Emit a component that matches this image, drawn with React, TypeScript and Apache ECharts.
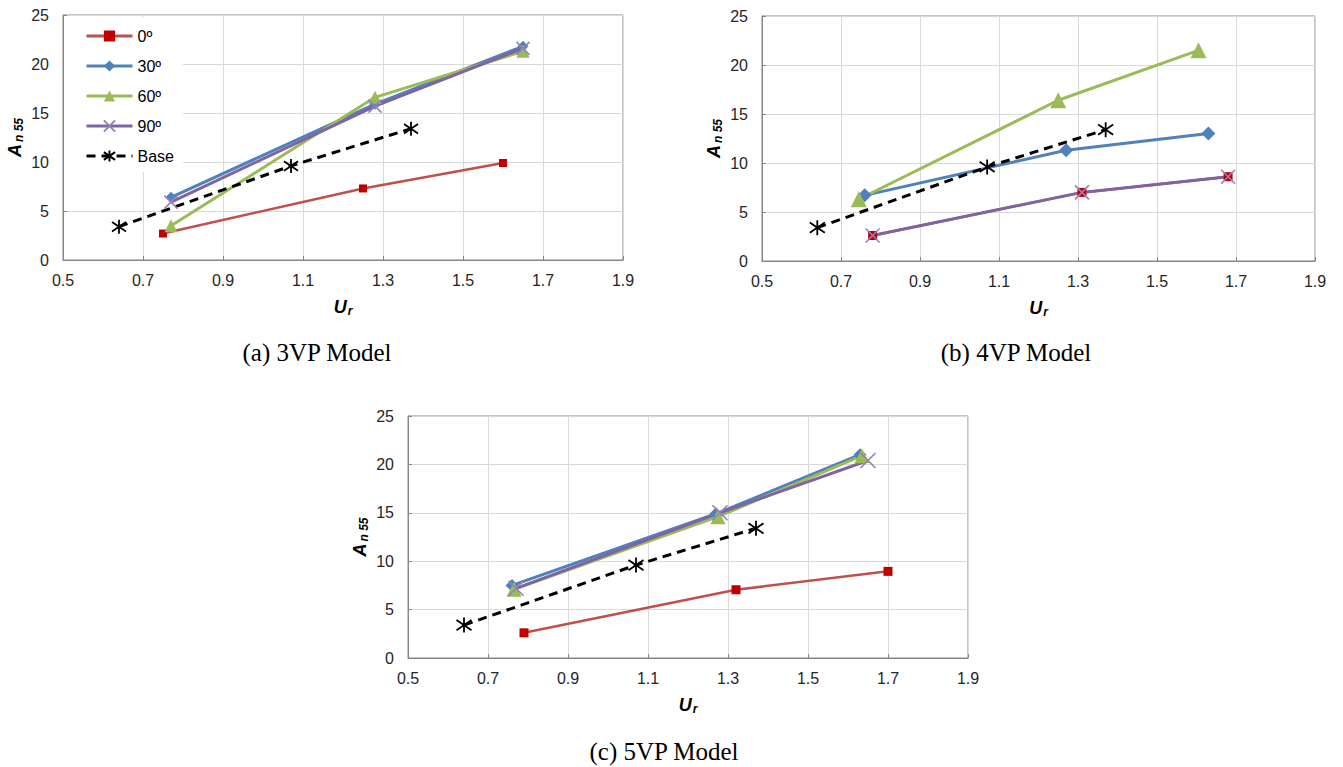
import React, { useEffect, useRef } from 'react';
import * as echarts from 'echarts';

// ---- data ----
const seriesNames = ['0º', '30º', '60º', '90º', 'Base'];
const captions = ['(a) 3VP Model', '(b) 4VP Model', '(c) 5VP Model'];
const xTicks = { min: 0.5, max: 1.9, step: 0.2 };
const yTicks = { min: 0, max: 25, step: 5 };

// shared base case [Ur, An55]
const base: [number, number][] = [[0.64, 3.4], [1.07, 9.6], [1.37, 13.4]];

// (a) 3VP
const vp3_deg0: [number, number][] = [[0.75, 2.7], [1.25, 7.3], [1.60, 9.9]];
const vp3_deg30: [number, number][] = [[0.77, 6.4], [1.28, 15.9], [1.65, 21.8]];
const vp3_deg60: [number, number][] = [[0.77, 3.5], [1.28, 16.6], [1.65, 21.3]];
const vp3_deg90: [number, number][] = [[0.77, 5.9], [1.28, 15.7], [1.65, 21.6]];

// (b) 4VP
const vp4_deg0: [number, number][] = [[0.78, 2.6], [1.31, 7.0], [1.68, 8.6]];
const vp4_deg30: [number, number][] = [[0.76, 6.7], [1.27, 11.3], [1.63, 13.0]];
const vp4_deg60: [number, number][] = [[0.745, 6.3], [1.25, 16.4], [1.605, 21.5]];
const vp4_deg90: [number, number][] = [[0.78, 2.6], [1.31, 7.0], [1.68, 8.6]];

// (c) 5VP
const vp5_deg0: [number, number][] = [[0.79, 2.6], [1.32, 7.05], [1.70, 8.95]];
const vp5_deg30: [number, number][] = [[0.76, 7.5], [1.27, 14.9], [1.63, 21.0]];
const vp5_deg60: [number, number][] = [[0.765, 7.1], [1.275, 14.6], [1.635, 20.9]];
const vp5_deg90: [number, number][] = [[0.77, 7.2], [1.28, 15.0], [1.65, 20.4]];

const panels = [
  [vp3_deg0, vp3_deg30, vp3_deg60, vp3_deg90, base],
  [vp4_deg0, vp4_deg30, vp4_deg60, vp4_deg90, base],
  [vp5_deg0, vp5_deg30, vp5_deg60, vp5_deg90, base],
];

// ---- layout / style ----
const grids = [
  { left: 63, top: 15, width: 560, height: 245 },
  { left: 762, top: 16, width: 553, height: 245 },
  { left: 408, top: 416, width: 560, height: 242 },
];
const captionPos = [
  [317, 352],
  [1016, 352],
  [664, 751],
];
const markerSizes = [
  [8, 11, 13, 13, 14],
  [9, 14, 16, 14, 15],
  [9, 13, 15, 15, 15],
];

const X_PATH = 'path://M0,0L10,10M10,0L0,10';
const STAR_PATH = 'path://M5,0L5,10M1,1.6L9,8.4M1,8.4L9,1.6';
const FONT = '"Liberation Sans", Arial, sans-serif';

const styleFor = (k: number, size: number) => {
  switch (k) {
    case 0:
      return {
        symbol: 'rect',
        symbolSize: size,
        itemStyle: { color: '#c00000' },
        lineStyle: { color: '#c0504d', width: 2.5 },
      };
    case 1:
      return {
        symbol: 'diamond',
        symbolSize: size,
        itemStyle: { color: '#4f81bd' },
        lineStyle: { color: '#4f81bd', width: 3 },
      };
    case 2:
      return {
        symbol: 'triangle',
        symbolSize: size,
        itemStyle: { color: '#9bbb59' },
        lineStyle: { color: '#9bbb59', width: 3 },
      };
    case 3:
      return {
        symbol: X_PATH,
        symbolSize: size,
        itemStyle: { color: '#9580b8', borderColor: '#9580b8', borderWidth: 1.6 },
        lineStyle: { color: '#8064a2', width: 3 },
      };
    default:
      return {
        symbol: STAR_PATH,
        symbolSize: size,
        itemStyle: { color: '#000', borderColor: '#000', borderWidth: 1.8 },
        lineStyle: { color: '#000', width: 3, type: [9, 6] as any },
      };
  }
};

export default function App() {
  const ref = useRef<HTMLDivElement>(null);
  useEffect(() => {
    if (!ref.current) return;
    const chart = echarts.init(ref.current, undefined, { renderer: 'svg' });

    const xAxis = grids.map((_, i) => ({
      gridIndex: i,
      type: 'value',
      min: xTicks.min,
      max: xTicks.max,
      interval: xTicks.step,
      axisLabel: {
        fontSize: 16,
        color: '#262626',
        fontFamily: FONT,
        margin: 12,
        formatter: (v: number) => v.toFixed(1),
      },
      axisLine: { lineStyle: { color: '#868686', width: 1 } },
      axisTick: { inside: true, length: 4, lineStyle: { color: '#868686' } },
      splitLine: { show: true, lineStyle: { color: '#d9d9d9', width: 1 } },
      name: '{u|U}{r|r}',
      nameLocation: 'middle',
      nameGap: 37,
      nameTextStyle: {
        rich: {
          u: { fontSize: 18, fontWeight: 'bold', fontStyle: 'italic', fontFamily: FONT, color: '#000' },
          r: {
            fontSize: 12,
            fontWeight: 'bold',
            fontStyle: 'italic',
            fontFamily: FONT,
            color: '#000',
            verticalAlign: 'bottom',
            padding: [8, 0, 0, 1],
          },
        },
      },
    }));

    const yAxis = grids.map((_, i) => ({
      gridIndex: i,
      type: 'value',
      min: yTicks.min,
      max: yTicks.max,
      interval: yTicks.step,
      axisLabel: { fontSize: 16, color: '#262626', fontFamily: FONT, margin: 14 },
      axisLine: { show: true, lineStyle: { color: '#868686', width: 1 } },
      axisTick: { show: true, inside: true, length: 4, lineStyle: { color: '#868686' } },
      splitLine: { show: true, lineStyle: { color: '#d9d9d9', width: 1 } },
      name: '{a|A}{b|n 55}',
      nameLocation: 'middle',
      nameRotate: 90,
      nameGap: 38,
      nameTextStyle: {
        rich: {
          a: { fontSize: 18, fontWeight: 'bold', fontStyle: 'italic', fontFamily: FONT, color: '#000' },
          b: {
            fontSize: 12,
            fontWeight: 'bold',
            fontStyle: 'italic',
            fontFamily: FONT,
            color: '#000',
            verticalAlign: 'bottom',
            padding: [8, 0, 0, 2],
          },
        },
      },
    }));

    const series: any[] = [];
    panels.forEach((pSeries, i) => {
      pSeries.forEach((pts, k) => {
        series.push({
          type: 'line',
          name: seriesNames[k],
          xAxisIndex: i,
          yAxisIndex: i,
          data: pts,
          showSymbol: true,
          emphasis: { disabled: true },
          ...styleFor(k, markerSizes[i][k]),
        });
      });
    });

    chart.setOption({
      animation: false,
      backgroundColor: '#ffffff',
      grid: grids.map((g) => ({
        ...g,
        show: true,
        borderColor: '#868686',
        borderWidth: 1,
        backgroundColor: 'transparent',
        containLabel: false,
      })),
      legend: {
        data: seriesNames,
        orient: 'vertical',
        left: 64,
        top: 17,
        padding: [11, 9, 8, 21],
        backgroundColor: '#ffffff',
        itemWidth: 46,
        itemHeight: 14,
        itemGap: 14,
        selectedMode: false,
        lineStyle: { width: 3 },
        textStyle: { fontSize: 16, color: '#000', fontFamily: FONT },
      },
      xAxis,
      yAxis,
      series,
      graphic: captions.map((c, i) => ({
        type: 'text',
        x: captionPos[i][0],
        y: captionPos[i][1],
        style: {
          text: c,
          fontSize: 25,
          fontFamily: '"Liberation Serif", "Times New Roman", serif',
          fill: '#000',
          align: 'center',
          verticalAlign: 'middle',
        },
      })),
    });

    return () => chart.dispose();
  }, []);

  return (
    <div
      ref={ref}
      style={{ position: 'fixed', left: 0, top: 0, width: 1343, height: 767, background: '#fff' }}
    />
  );
}
